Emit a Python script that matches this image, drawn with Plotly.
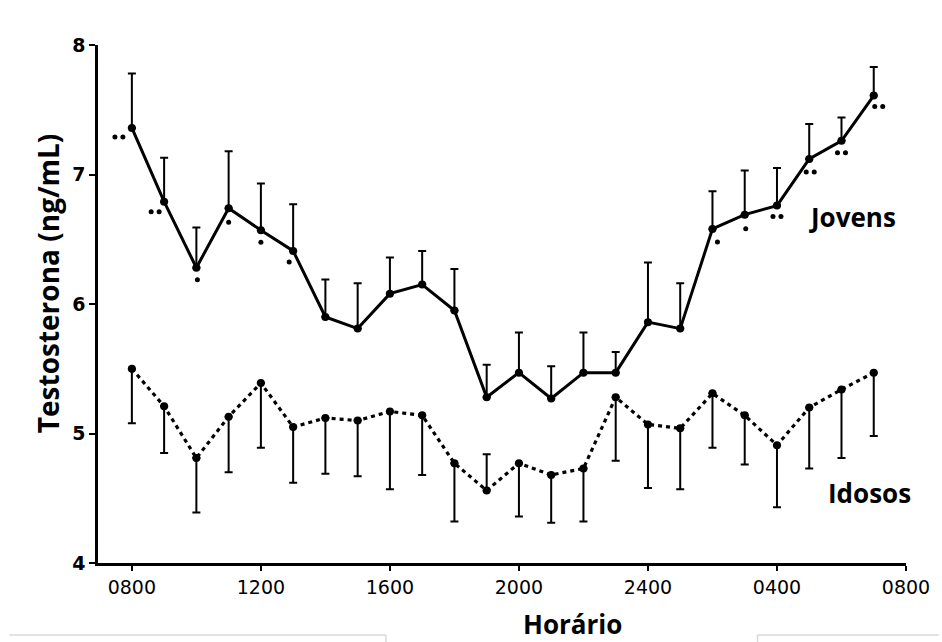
import plotly.graph_objects as go

# Hours after 08:00 (0 = 0800, 23 = 0700 next day)
hours = list(range(24))
tick_vals = [0, 4, 8, 12, 16, 20, 24]
tick_text = ["0800", "1200", "1600", "2000", "2400", "0400", "0800"]

# Young men: mean testosterone and upper end of the error bar (ng/mL)
jovens = [7.36, 6.79, 6.28, 6.74, 6.57, 6.41, 5.90, 5.81, 6.08, 6.15, 5.95, 5.28,
          5.47, 5.27, 5.47, 5.47, 5.86, 5.81, 6.58, 6.69, 6.76, 7.12, 7.26, 7.61]
jovens_bar_end = [7.78, 7.13, 6.59, 7.18, 6.93, 6.77, 6.19, 6.16, 6.36, 6.41, 6.27, 5.53,
                  5.78, 5.52, 5.78, 5.63, 6.32, 6.16, 6.87, 7.03, 7.05, 7.39, 7.44, 7.83]
# significance level of the young-vs-elderly difference (number of asterisks)
jovens_sig = [2, 2, 1, 1, 1, 1, 0, 0, 0, 0, 0, 0,
              0, 0, 0, 0, 0, 0, 1, 1, 2, 2, 2, 2]

# Elderly men: mean testosterone and the end of the error bar (ng/mL)
idosos = [5.50, 5.21, 4.81, 5.13, 5.39, 5.05, 5.12, 5.10, 5.17, 5.14, 4.77, 4.56,
          4.77, 4.68, 4.73, 5.28, 5.07, 5.04, 5.31, 5.14, 4.91, 5.20, 5.34, 5.47]
idosos_bar_end = [5.08, 4.85, 4.39, 4.70, 4.89, 4.62, 4.69, 4.67, 4.57, 4.68, 4.32, 4.84,
                  4.36, 4.31, 4.32, 4.79, 4.58, 4.57, 4.89, 4.76, 4.43, 4.73, 4.81, 4.98]

# figure geometry (pixels)
W, H = 942, 642
L, R, T, B = 98, 33, 45, 79
pw, ph = W - L - R, H - T - B
X_RANGE = [-1.05, 24]
Y_RANGE = [4, 8]
px_per_hour = pw / (X_RANGE[1] - X_RANGE[0])
px_per_unit = ph / (Y_RANGE[1] - Y_RANGE[0])

# pixel offset (right, down) of each asterisk group from its point
sig_offset = {0: (-13, 9), 1: (-9, 10), 2: (1, 12), 3: (0, 14), 4: (0, 12), 5: (-4, 11),
              18: (5, 13), 19: (1, 14), 20: (0, 11), 21: (1, 13), 22: (0, 12), 23: (5, 11)}
DOT_GAP = 8


def split_err(values, ends):
    plus = [max(e - v, 0) for v, e in zip(values, ends)]
    minus = [max(v - e, 0) for v, e in zip(values, ends)]
    return plus, minus


j_plus, j_minus = split_err(jovens, jovens_bar_end)
i_plus, i_minus = split_err(idosos, idosos_bar_end)

fig = go.Figure()

fig.add_trace(go.Scatter(
    x=hours, y=idosos, mode="lines+markers",
    line=dict(color="black", width=3.2, dash="4px,4px"),
    marker=dict(color="black", size=8),
    error_y=dict(type="data", symmetric=False, array=i_plus, arrayminus=i_minus,
                 color="black", thickness=2, width=4),
    showlegend=False,
))

fig.add_trace(go.Scatter(
    x=hours, y=jovens, mode="lines+markers",
    line=dict(color="black", width=3),
    marker=dict(color="black", size=8),
    error_y=dict(type="data", symmetric=False, array=j_plus, arrayminus=j_minus,
                 color="black", thickness=2, width=4),
    showlegend=False,
))

# asterisk marks, drawn as small dots next to the young-men points
sx, sy = [], []
for i, (h, v, n) in enumerate(zip(hours, jovens, jovens_sig)):
    if n == 0:
        continue
    dx, dy = sig_offset[i]
    for k in range(n):
        ox = dx + (k - (n - 1) / 2) * DOT_GAP
        sx.append(h + ox / px_per_hour)
        sy.append(v - dy / px_per_unit)
fig.add_trace(go.Scatter(
    x=sx, y=sy, mode="markers",
    marker=dict(color="black", size=5),
    showlegend=False, hoverinfo="skip",
))

labels = [
    dict(x=855, y=217, text="Jovens", size=26, weight=700),
    dict(x=872, y=493, text="Idosos", size=26, weight=700),
    dict(x=574, y=624, text="Horário", size=26, weight=700),
]
annotations = []
for lab in labels:
    annotations.append(dict(
        x=(lab["x"] - L) / pw, y=1 - (lab["y"] - T) / ph,
        xref="paper", yref="paper", xanchor="center", yanchor="middle",
        text=lab["text"], showarrow=False,
        font=dict(family="Open Sans", size=lab["size"], color="black", weight=lab["weight"]),
    ))
annotations.append(dict(
    x=(48 - L) / pw, y=1 - (283 - T) / ph, xref="paper", yref="paper",
    xanchor="center", yanchor="middle", text="Testosterona (ng/mL)",
    showarrow=False, textangle=-90,
    font=dict(family="Open Sans", size=28, color="black", weight=700),
))

# faint frame edges along the bottom of the page
frame = [((9, 635), (387, 635)), ((387, 635), (387, 642)),
         ((760, 635), (942, 635)), ((760, 635), (760, 642))]
shapes = []
for (x0, y0), (x1, y1) in frame:
    shapes.append(dict(
        type="line", xref="paper", yref="paper",
        x0=(x0 - L) / pw, x1=(x1 - L) / pw,
        y0=1 - (y0 - T) / ph, y1=1 - (y1 - T) / ph,
        line=dict(color="#d9d9d9", width=1.5),
    ))

fig.update_layout(
    width=W, height=H,
    margin=dict(l=L, r=R, t=T, b=B, pad=0),
    paper_bgcolor="white", plot_bgcolor="white",
    annotations=annotations, shapes=shapes,
)

fig.update_xaxes(
    range=X_RANGE, tickvals=tick_vals, ticktext=tick_text,
    showgrid=False, zeroline=False, showline=True, linecolor="black", linewidth=2.5,
    ticks="outside", ticklen=5, tickwidth=2, tickcolor="black",
    tickfont=dict(family="DejaVu Sans", size=19, color="black"),
)
fig.update_yaxes(
    range=Y_RANGE, tickvals=[4, 5, 6, 7, 8],
    showgrid=False, zeroline=False, showline=True, linecolor="black", linewidth=2.5,
    ticks="outside", ticklen=6, tickwidth=2, tickcolor="black",
    tickfont=dict(family="DejaVu Sans", size=19, color="black", weight=700),
)

fig.write_html("out.html")
